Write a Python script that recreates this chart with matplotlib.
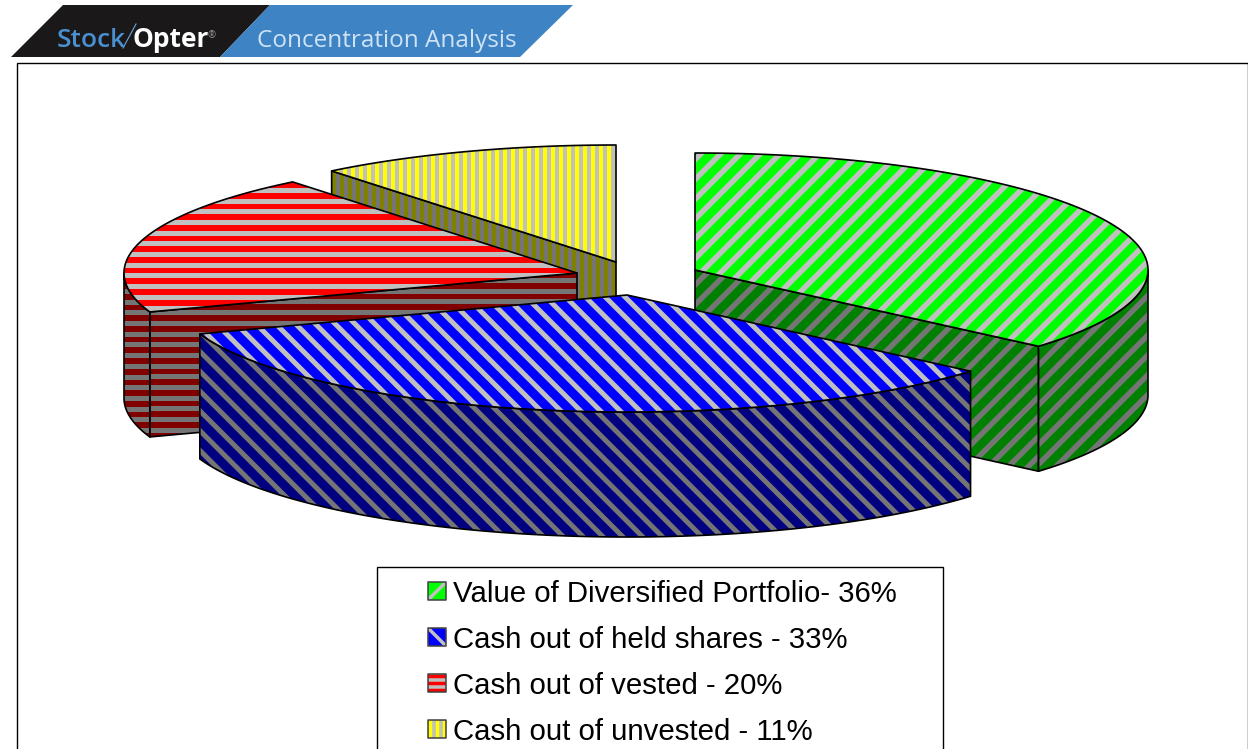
import numpy as np
import matplotlib
matplotlib.use('Agg')
import matplotlib.pyplot as plt
from matplotlib.collections import LineCollection
from matplotlib.patches import Polygon, Rectangle

# slice data, clockwise from 12 o'clock (legend rounds these to 36/33/20/11)
labels = ['Value of Diversified Portfolio- 36%', 'Cash out of held shares - 33%',
          'Cash out of vested - 20%', 'Cash out of unvested - 11%']
shares = [36.3, 33.3, 19.6, 10.8]
centers = [(695, 270), (627, 295), (577, 273), (616, 262)]  # exploded positions
top_colors = ['#00ff00', '#0000ff', '#ff0000', '#ffff00']
side_colors = ['#008000', '#000080', '#800000', '#808000']
stripe_angles = [45, 135, 0, 90]
stripe_periods = [14, 14, 10.7, 8]
stripe_widths = [5.5, 5, 5, 4]
swatch_periods = [13, 13, 7, 7]
swatch_shifts = [0, 0, 3.5, 3.5]

RX, RY, DEPTH = 453, 117, 125
plt.rcParams['font.family'] = ['Liberation Sans', 'DejaVu Sans']

fig = plt.figure(figsize=(12.48, 7.49), dpi=100)
ax = fig.add_axes([0, 0, 1, 1])
ax.set_xlim(0, 1248)
ax.set_ylim(749, 0)
ax.axis('off')


def arc(cx, cy, a0, a1):
	a = np.radians(np.linspace(a0, a1, 120))
	return np.column_stack([cx + RX*np.sin(a), cy - RY*np.cos(a)])


#fills a polygon with a flat colour and clipped stripes, then outlines it
def striped(pts, color, stripe, angle, period, width, z, lw=1.2, edge='black', shift=0):
	patch = Polygon(pts, closed=True, fc=color, ec='none', zorder=z)
	ax.add_patch(patch)
	mid = pts.mean(axis=0)
	size = np.ptp(pts, axis=0).max() + 50
	t = np.radians(angle)
	along = np.array([np.cos(t), -np.sin(t)])
	across = np.array([np.sin(t), np.cos(t)])
	offs = np.arange(-(size//period)*period, size, period) + shift
	segs = [[mid + o*across - size*along, mid + o*across + size*along] for o in offs]
	lines = LineCollection(segs, colors=stripe, linewidths=width*0.72, zorder=z, capstyle='butt')
	ax.add_collection(lines)
	lines.set_clip_path(patch)
	ax.add_patch(Polygon(pts, closed=True, fc='none', ec=edge, lw=lw, zorder=z, joinstyle='round'))


# header banner
ax.add_patch(Polygon([(11, 57), (63, 5), (270, 5), (220, 57)], fc='#1a1818', ec='none'))
ax.add_patch(Polygon([(220, 57), (270, 5), (573, 5), (520, 57)], fc='#3e84c4', ec='none'))
ax.text(57, 47, 'Stock', color='#4a90d0', fontsize=19, family='Open Sans', weight='semibold')
ax.plot([123, 136], [48, 24], color='#6aa6dc', lw=0.8)
ax.text(133, 47, 'Opter', color='white', fontsize=19, family='Open Sans', weight='bold')
ax.text(207, 38, '®', color='#999999', fontsize=7, family='Open Sans')
ax.text(257, 47, 'Concentration Analysis', color='#cfe3f5', fontsize=17.5, family='Open Sans')

# outer frame
ax.add_patch(Rectangle((17, 63), 1231, 700, fc='white', ec='black', lw=1))

# draw back slices first, nearest (blue) last
edges = np.cumsum([0] + shares)*3.6
order = [3, 2, 0, 1]
for n, i in enumerate(order):
	cx, cy = centers[i]
	a0, a1 = edges[i], edges[i+1]
	kw = dict(angle=stripe_angles[i], period=stripe_periods[i], width=stripe_widths[i])
	z = 3 + n*3
	# cut faces that turn towards the viewer
	for a, visible in ((a0, -np.sin(np.radians(a0)) > 1e-6), (a1, np.sin(np.radians(a1)) > 1e-6)):
		if visible:
			p = arc(cx, cy, a, a)[0]
			face = np.array([(cx, cy), p, p + (0, DEPTH), (cx, cy + DEPTH)])
			striped(face, side_colors[i], '#757575', z=z, **kw)
	# outer rim, front half only
	r0, r1 = max(a0, 90), min(a1, 270)
	if r1 > r0:
		rim = arc(cx, cy, r0, r1)
		striped(np.vstack([rim, rim[::-1] + (0, DEPTH)]), side_colors[i], '#757575', z=z+1, **kw)
	# top
	top = np.vstack([[(cx, cy)], arc(cx, cy, a0, a1)])
	striped(top, top_colors[i], '#c0c0c0', z=z+2, **kw)

# legend
ax.add_patch(Rectangle((377, 567), 566, 200, fc='white', ec='black', lw=1, zorder=30))
for i, y in enumerate([591, 637, 683, 729]):
	sw = np.array([(428, y-9), (446, y-9), (446, y+9), (428, y+9)], dtype=float)
	striped(sw, top_colors[i], '#c0c0c0', stripe_angles[i], swatch_periods[i], 3.5, 31, lw=1.1,
	        edge='#404040', shift=swatch_shifts[i])
	ax.text(453, y, labels[i], fontsize=21.2, color='black', va='center_baseline', zorder=31)

fig.savefig('out.png', dpi=100)
